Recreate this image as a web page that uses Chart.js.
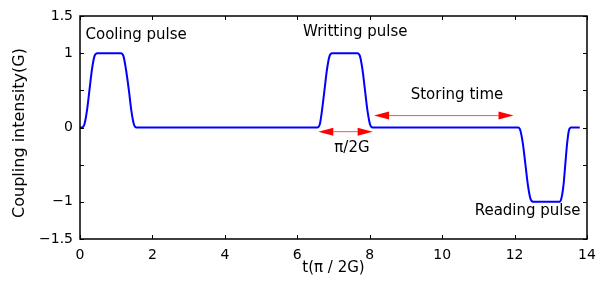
<!DOCTYPE html>
<html>
<head>
<meta charset="utf-8">
<script src="https://cdn.jsdelivr.net/npm/chart.js@4/dist/chart.umd.min.js"></script>
<style>
  html, body { margin: 0; padding: 0; background: #fff; }
  #wrap { width: 605px; height: 286px; }
</style>
</head>
<body>
<div id="wrap"><canvas id="pulseChart"></canvas></div>
<script>
// time axis in units of pi/2G
const times = [
  0, 0.05, 0.12, 0.19, 0.26, 0.33, 0.40, 0.48,
  1.13, 1.20, 1.27, 1.35, 1.42, 1.49, 1.56,
  6.55, 6.62, 6.68, 6.75, 6.82, 6.89, 6.96,
  7.66, 7.73, 7.80, 7.87, 7.94, 8.01, 8.08,
  12.10, 12.16, 12.23, 12.30, 12.37, 12.44, 12.52,
  13.24, 13.29, 13.35, 13.40, 13.45, 13.50, 13.56, 13.80
];
const coupling = [
  0, 0, 0.04, 0.22, 0.5, 0.78, 0.96, 1,
  1, 0.96, 0.78, 0.5, 0.22, 0.04, 0,
  0, 0.04, 0.22, 0.5, 0.78, 0.96, 1,
  1, 0.96, 0.78, 0.5, 0.22, 0.04, 0,
  0, -0.04, -0.22, -0.5, -0.78, -0.96, -1,
  -1, -0.96, -0.78, -0.5, -0.22, -0.04, 0, 0
];

const xTickValues = [0, 2, 4, 6, 8, 10, 12, 14];
const yTickValues = [-1.5, -1, -0.5, 0, 0.5, 1, 1.5];
const yTickLabels = ['\u22121.5', '\u22121', '', '0', '', '1', '1.5'];

// labels placed in data coordinates
const noteTexts = ['Cooling pulse', 'Writting pulse', 'Storing time', '\u03c0/2G', 'Reading pulse'];
const noteX     = [1.55, 7.6, 10.41, 7.51, 12.36];
const noteY     = [1.24, 1.28, 0.437, -0.276, -1.12];

// double arrows: [from, to] at height
const arrowFrom = [6.58, 8.12];
const arrowTo   = [8.08, 11.97];
const arrowY    = [-0.056, 0.16];

const FONT = '"DejaVu Sans", sans-serif';

const framePlugin = {
  id: 'frame',
  afterDraw(chart) {
    const { ctx, chartArea: a, scales: { x, y } } = chart;
    ctx.save();

    // arrows
    arrowFrom.forEach((from, i) => {
      const x1 = x.getPixelForValue(from);
      const x2 = x.getPixelForValue(arrowTo[i]);
      const py = y.getPixelForValue(arrowY[i]);
      const head = 15, hw = 4;
      ctx.strokeStyle = '#ff5050';
      ctx.lineWidth = 1;
      ctx.beginPath();
      ctx.moveTo(x1 + head, py);
      ctx.lineTo(x2 - head, py);
      ctx.stroke();
      ctx.fillStyle = '#ff0000';
      ctx.beginPath();
      ctx.moveTo(x1, py);
      ctx.lineTo(x1 + head, py - hw);
      ctx.lineTo(x1 + head, py + hw);
      ctx.closePath();
      ctx.fill();
      ctx.beginPath();
      ctx.moveTo(x2, py);
      ctx.lineTo(x2 - head, py - hw);
      ctx.lineTo(x2 - head, py + hw);
      ctx.closePath();
      ctx.fill();
    });

    // box and inward ticks
    ctx.strokeStyle = '#000';
    ctx.lineWidth = 1.5;
    ctx.strokeRect(a.left, a.top, a.right - a.left, a.bottom - a.top);
    ctx.lineWidth = 1;
    ctx.beginPath();
    xTickValues.forEach(v => {
      const px = Math.round(x.getPixelForValue(v)) + 0.5;
      ctx.moveTo(px, a.bottom); ctx.lineTo(px, a.bottom - 4);
      ctx.moveTo(px, a.top); ctx.lineTo(px, a.top + 4);
    });
    yTickValues.forEach(v => {
      const py = Math.round(y.getPixelForValue(v)) + 0.5;
      ctx.moveTo(a.left, py); ctx.lineTo(a.left + 4, py);
      ctx.moveTo(a.right, py); ctx.lineTo(a.right - 4, py);
    });
    ctx.stroke();

    // annotations
    ctx.fillStyle = '#000';
    ctx.font = '15px ' + FONT;
    ctx.textAlign = 'center';
    ctx.textBaseline = 'middle';
    noteTexts.forEach((t, i) => {
      ctx.fillText(t, x.getPixelForValue(noteX[i]), y.getPixelForValue(noteY[i]));
    });

    // axis titles
    ctx.fillText('t(\u03c0 / 2G)', (a.left + a.right) / 2, 268);
    ctx.font = '16px ' + FONT;
    ctx.translate(20, 133);
    ctx.rotate(-Math.PI / 2);
    ctx.fillText('Coupling intensity(G)', 0, 0);
    ctx.restore();
  }
};

new Chart(document.getElementById('pulseChart'), {
  type: 'line',
  data: {
    datasets: [{
      data: times.map((t, i) => ({ x: t, y: coupling[i] })),
      borderColor: '#0000ff',
      borderWidth: 2,
      pointRadius: 0,
      cubicInterpolationMode: 'monotone',
      fill: false
    }]
  },
  options: {
    responsive: true,
    maintainAspectRatio: false,
    animation: false,
    layout: { padding: { top: 16, right: 18, left: 0, bottom: 0 } },
    plugins: { legend: { display: false }, tooltip: { enabled: false } },
    scales: {
      x: {
        type: 'linear',
        min: 0,
        max: 14,
        afterBuildTicks: s => { s.ticks = xTickValues.map(v => ({ value: v })); },
        afterFit: s => { s.height = 47; },
        grid: { display: false, drawTicks: false },
        border: { display: false },
        ticks: { color: '#000', font: { size: 14, family: FONT }, padding: 8, maxRotation: 0 }
      },
      y: {
        min: -1.5,
        max: 1.5,
        afterBuildTicks: s => { s.ticks = yTickValues.map(v => ({ value: v })); },
        afterFit: s => { s.width = 80; },
        grid: { display: false, drawTicks: false },
        border: { display: false },
        ticks: {
          color: '#000',
          font: { size: 14, family: FONT },
          padding: 7,
          callback: (v, i) => yTickLabels[i]
        }
      }
    }
  },
  plugins: [framePlugin]
});
</script>
</body>
</html>
